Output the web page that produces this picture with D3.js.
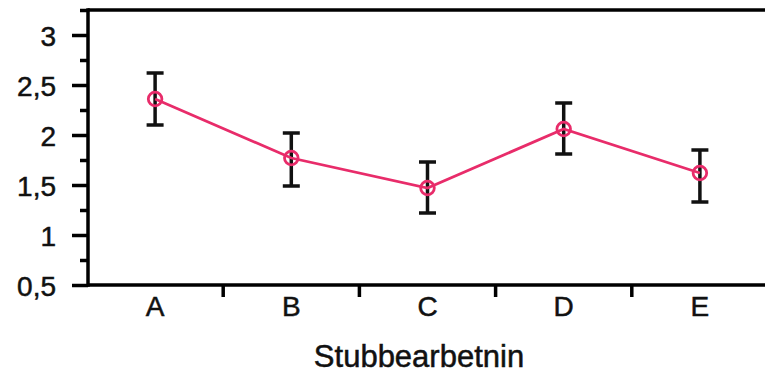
<!DOCTYPE html>
<html>
<head>
<meta charset="utf-8">
<script src="https://cdn.jsdelivr.net/npm/d3@7"></script>
<style>
  body { margin: 0; background: #fff; }
  text { font-family: "Liberation Sans", Arial, sans-serif; fill: #111; stroke: #111; stroke-width: 0.5px; }
</style>
</head>
<body>
<div class="canvas"></div>
<script>
// values
const categories = ['A', 'B', 'C', 'D', 'E'];
const means = [2.36, 1.77, 1.47, 2.06, 1.62];
const upper = [2.62, 2.02, 1.73, 2.32, 1.85];
const lower = [2.10, 1.49, 1.22, 1.81, 1.33];
const majorTicks = [0.5, 1, 1.5, 2, 2.5, 3];
const minorTicks = [0.75, 1.25, 1.75, 2.25, 2.75, 3.25];
const xTitle = 'Stubbearbetnin';

draw_chart();

function draw_chart() {
    const width = 765, height = 375;
    const left = 88, top = 10, bottom = 285;

    const svg = d3.select('.canvas')
        .append('svg')
        .attr('width', width)
        .attr('height', height);

    // bands a touch wider than the visible area, as in the original
    const x = d3.scaleBand().domain(categories).range([87, 768]);
    const y = d3.scaleLinear().domain([0.5, 3.25]).range([bottom, top]);

    const fmt = d => String(d).replace('.', ',');

    // minor ticks on y
    svg.append('g')
        .attr('transform', `translate(${left},0)`)
        .call(d3.axisLeft(y).tickValues(minorTicks).tickSize(8).tickFormat(''))
        .call(g => g.select('.domain').remove())
        .selectAll('line').attr('stroke', '#000').attr('stroke-width', 3.5);

    // major y axis
    const yAxis = svg.append('g')
        .attr('transform', `translate(${left},0)`)
        .call(d3.axisLeft(y).tickValues(majorTicks).tickSize(16).tickPadding(16).tickFormat(fmt));
    yAxis.select('.domain').remove();
    yAxis.selectAll('line').attr('stroke', '#000').attr('stroke-width', 3.5);
    yAxis.selectAll('text').style('font-size', '28px').attr('dy', '0.36em');

    // x axis labels
    const xAxis = svg.append('g')
        .attr('transform', `translate(0,${bottom})`)
        .call(d3.axisBottom(x).tickSize(0).tickPadding(11));
    xAxis.select('.domain').remove();
    xAxis.selectAll('text').style('font-size', '28px');

    // boundary ticks between categories
    svg.append('g').selectAll('line')
        .data(categories.slice(1))
        .join('line')
        .attr('x1', d => x(d)).attr('x2', d => x(d))
        .attr('y1', bottom).attr('y2', bottom + 12)
        .attr('stroke', '#000').attr('stroke-width', 3.5);

    // frame lines: left, bottom, top
    const frame = svg.append('g').attr('stroke', '#000').attr('stroke-width', 3.5);
    frame.append('line').attr('x1', left).attr('x2', left).attr('y1', top - 1.75).attr('y2', bottom + 1.75);
    frame.append('line').attr('x1', left).attr('x2', width).attr('y1', bottom).attr('y2', bottom);
    frame.append('line').attr('x1', left).attr('x2', width).attr('y1', top).attr('y2', top);

    const cx = d => x(d) + x.bandwidth() / 2;

    // error bars
    const err = svg.append('g').attr('stroke', '#111').attr('stroke-width', 3.5);
    categories.forEach((c, i) => {
        err.append('line').attr('x1', cx(c)).attr('x2', cx(c)).attr('y1', y(upper[i])).attr('y2', y(lower[i]));
        err.append('line').attr('x1', cx(c) - 8.5).attr('x2', cx(c) + 8.5).attr('y1', y(upper[i])).attr('y2', y(upper[i]));
        err.append('line').attr('x1', cx(c) - 8.5).attr('x2', cx(c) + 8.5).attr('y1', y(lower[i])).attr('y2', y(lower[i]));
    });

    // mean line
    const line = d3.line().x((d, i) => cx(categories[i])).y(d => y(d));
    svg.append('path')
        .datum(means)
        .attr('d', line)
        .attr('fill', 'none')
        .attr('stroke', '#e82c6a')
        .attr('stroke-width', 2.8);

    svg.append('g').selectAll('circle')
        .data(means)
        .join('circle')
        .attr('cx', (d, i) => cx(categories[i]))
        .attr('cy', d => y(d))
        .attr('r', 6.8)
        .attr('fill', 'none')
        .attr('stroke', '#e82c6a')
        .attr('stroke-width', 2.8);

    svg.append('text')
        .attr('x', 419)
        .attr('y', 367)
        .attr('text-anchor', 'middle')
        .style('font-size', '31px')
        .text(xTitle);
}
</script>
</body>
</html>
